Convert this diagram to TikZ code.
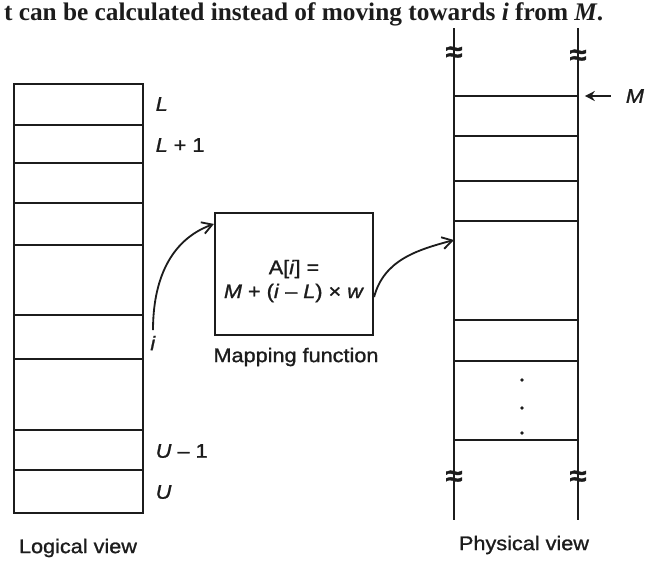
\documentclass[tikz,border=0pt]{standalone}
\usepackage{fontspec}
\setmainfont{Liberation Sans}[FakeStretch=1.1, FakeBold=1.2]
\newfontfamily\pageserif{Liberation Serif}
\usetikzlibrary{arrows.meta}
\definecolor{my_ink}{HTML}{1C1C1C}

\begin{document}
\begin{tikzpicture}[
    x=0.025cm, y=-0.025cm,
    my_ink, line width=1.5pt,
    font=\fontsize{14}{17}\selectfont,
    brk/.style={font=\bfseries\fontsize{20}{20}\selectfont, inner sep=0pt}
]

\useasboundingbox (0,0) rectangle (648,560);

% -------- Page text at the top ------------------------------
\node[anchor=base west, inner sep=0pt,
      font=\pageserif\bfseries\fontsize{18}{22}\selectfont] (pagetext) at (3,20)
    {t can be calculated instead of moving towards \textit{i} from \textit{M}.};

% -------- Logical view (array cells L ... U) ----------------
\draw (14,84) rectangle (143,513);
\foreach \y in {125,163,203,245,315,359,430,470} {
    \draw (14,\y) -- (143,\y);
}
% Index labels at the right of the cells
\node[anchor=west] (lowL)  at (150,104) {\textit{L}};
\node[anchor=west] (lowL1) at (150,145) {\textit{L} + 1};
\node (i)                  at (153,343) {\textit{i}};
\node[anchor=west] (upU1)  at (150,451) {\textit{U} – 1};
\node[anchor=west] (upU)   at (150,492) {\textit{U}};
\node (logname) at (78,548) {Logical view};

% -------- Mapping function box ------------------------------
\node[draw, minimum width=3.95cm, minimum height=3.05cm, inner sep=0pt]
    (map) at (294,274) {};
\node[align=center] (formula) at (294,281)
    {A[\textit{i}] =\\ \textit{M} + (\textit{i} – \textit{L}) × \textit{w}};
\node (mapname) at (296,357) {Mapping function};

% -------- Physical view (memory, broken at both ends) -------
\draw (454,28) -- (454,520);
\draw (578,28) -- (578,520);
\foreach \y in {96,136,181,221,320,361,440} {
    \draw (454,\y) -- (578,\y);
}
% Break marks
\node[brk] (brkTL) at (454,54)  {≈};
\node[brk] (brkTR) at (578,57)  {≈};
\node[brk] (brkBL) at (454,478) {≈};
\node[brk] (brkBR) at (578,478) {≈};
% Vertical dots
\foreach \y in {380,408,433} {
    \fill (522,\y) circle (1.3pt);
}
\node (physname) at (524,545) {Physical view};

% -------- Base address M ------------------------------------
\coordinate (mtop) at (578,96);
\node[anchor=east, inner sep=0pt] (mlabel) at (645,96) {\textit{M}};
\draw[line width=1.3pt, -{Stealth[length=2.5mm, width=2.5mm]}]
    ([xshift=-0.35cm]mlabel.west) -- ([xshift=0.17cm]mtop);

% -------- Arrows: index -> mapping -> address ---------------
\coordinate (physin) at (454,240);
\draw[line width=1.3pt, -{Straight Barb[length=2.5mm, width=3mm]}]
    (i.north) to[out=90, in=200] ([yshift=-0.3cm]map.north west);
\draw[line width=1.3pt, -{Straight Barb[length=2.5mm, width=3mm]}]
    ([yshift=-0.575cm]map.east) to[out=75, in=195] (physin);

\end{tikzpicture}
\end{document}
